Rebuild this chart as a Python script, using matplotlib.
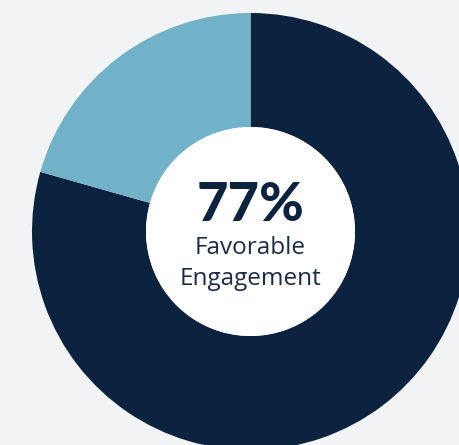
import matplotlib.pyplot as plt
from matplotlib.patches import Circle

# valeurs
labels = ["Favorable", "Autre"]
values = [79.4, 20.6]
colors = ["#0c2340", "#72b2c9"]
score = "77%"
caption = ["Favorable", "Engagement"]

BG = "#f2f3f5"
W, H = 460, 445
cx, cy = 250.5, H - 231.5
r_out, r_in = 218.5, 104.5

fig = plt.figure(figsize=(W / 100, H / 100), dpi=100, facecolor=BG)
ax = fig.add_axes([0, 0, 1, 1])
ax.set_facecolor(BG)

ax.pie(values, colors=colors, startangle=90, counterclock=False,
       center=(cx, cy), radius=r_out, frame=True,
       wedgeprops=dict(width=r_out - r_in, linewidth=0))
ax.add_patch(Circle((cx, cy), r_in, facecolor="white", edgecolor="none", zorder=3))

ax.text(cx, H - 221, score, ha="center", va="baseline", fontsize=39,
        fontweight="black", family="Lato", color="#0c2340", zorder=4)
ax.text(cx, H - 254, caption[0], ha="center", va="baseline", fontsize=17.5,
        family="Open Sans", color="#1c2b45", zorder=4)
ax.text(cx, H - 285, caption[1], ha="center", va="baseline", fontsize=17.5,
        family="Open Sans", color="#1c2b45", zorder=4)

ax.set_xlim(0, W)
ax.set_ylim(0, H)
ax.set_aspect("equal")
ax.axis("off")

fig.savefig("out.png", dpi=100, facecolor=BG)
